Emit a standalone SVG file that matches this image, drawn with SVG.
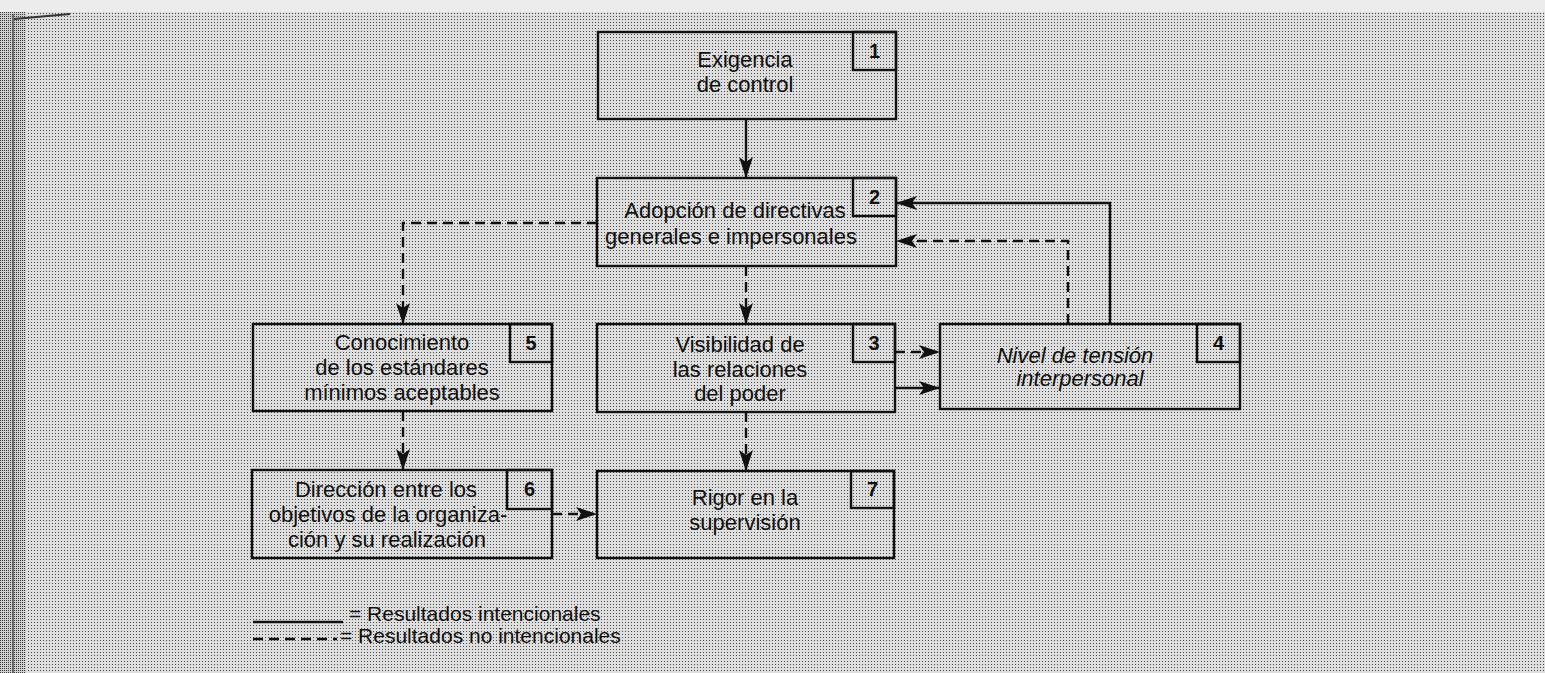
<svg xmlns="http://www.w3.org/2000/svg" width="1545" height="673" viewBox="0 0 1545 673">
<defs>
<pattern id="dots" width="3" height="3" patternUnits="userSpaceOnUse">
<rect width="3" height="3" fill="#dedede"/>
<rect x="1" y="1" width="1" height="1" fill="#4a4a4a"/>
</pattern>
<pattern id="dots2" width="2" height="2" patternUnits="userSpaceOnUse">
<rect width="2" height="2" fill="#cfcfcf"/>
<rect x="0" y="0" width="1" height="1" fill="#3a3a3a"/>
</pattern>
<marker id="ah" markerUnits="userSpaceOnUse" markerWidth="24" markerHeight="16" refX="21" refY="7" orient="auto">
<path d="M0,0 L21,7 L0,14 L5,7 Z" fill="#111"/>
</marker>
<style>
.box{fill:url(#dots);stroke:#111;stroke-width:2.4}
.num{fill:none;stroke:#111;stroke-width:2.4}
.t{font-family:"Liberation Sans",Arial,sans-serif;font-size:22px;fill:#111;text-anchor:middle}
.it{font-style:italic}
.n{font-family:"Liberation Sans",Arial,sans-serif;font-size:20px;font-weight:bold;fill:#111;text-anchor:middle}
.lg{font-family:"Liberation Sans",Arial,sans-serif;font-size:21px;fill:#111}
.s{fill:none;stroke:#111;stroke-width:2.4}
.d{fill:none;stroke:#111;stroke-width:2.4;stroke-dasharray:10 6}
</style>
</defs>
<rect width="1545" height="673" fill="url(#dots)"/>
<rect x="0" y="0" width="1545" height="12" fill="#ececec"/>
<rect x="0" y="12" width="26" height="661" fill="url(#dots2)"/>
<line x1="13" y1="14" x2="13" y2="673" stroke="#555" stroke-width="1.5"/>
<line x1="14" y1="19" x2="70" y2="14" stroke="#333" stroke-width="2"/>

<g id="connectors">
<line class="s" x1="746" y1="119" x2="746" y2="178" marker-end="url(#ah)"/>
<polyline class="d" points="597,223 403,223 403,324" marker-end="url(#ah)"/>
<line class="d" x1="746" y1="266" x2="746" y2="324" marker-end="url(#ah)"/>
<polyline class="s" points="1110,324 1110,203 896,203" marker-end="url(#ah)"/>
<polyline class="d" points="1068,324 1068,241 896,241" marker-end="url(#ah)"/>
<line class="d" x1="895" y1="352" x2="940" y2="352" stroke-dasharray="4 5" marker-end="url(#ah)"/>
<line class="s" x1="895" y1="388" x2="940" y2="388" marker-end="url(#ah)"/>
<line class="d" x1="403" y1="411" x2="403" y2="470" marker-end="url(#ah)"/>
<line class="d" x1="746" y1="412" x2="746" y2="471" stroke-dasharray="6 5" marker-end="url(#ah)"/>
<line class="d" x1="552" y1="514" x2="597" y2="514" stroke-dasharray="6 5" marker-end="url(#ah)"/>
</g>

<g id="node1">
<rect class="box" x="598" y="32" width="298" height="87"/>
<rect class="num" x="853" y="32" width="43" height="38"/>
<text class="n" x="874.5" y="58">1</text>
<text class="t" x="745" y="67">Exigencia</text>
<text class="t" x="745" y="92">de control</text>
</g>

<g id="node2">
<rect class="box" x="597" y="178" width="299" height="88"/>
<rect class="num" x="853" y="178" width="43" height="38"/>
<text class="n" x="874.5" y="204">2</text>
<text class="t" x="735" y="218">Adopción de directivas</text>
<text class="t" x="731" y="244">generales e impersonales</text>
</g>

<g id="node5">
<rect class="box" x="253" y="324" width="299" height="87"/>
<rect class="num" x="510" y="324" width="42" height="38"/>
<text class="n" x="531" y="350">5</text>
<text class="t" x="402" y="350">Conocimiento</text>
<text class="t" x="402" y="375">de los estándares</text>
<text class="t" x="402" y="400">mínimos aceptables</text>
</g>

<g id="node3">
<rect class="box" x="597" y="324" width="298" height="88"/>
<rect class="num" x="853" y="324" width="42" height="38"/>
<text class="n" x="874" y="350">3</text>
<text class="t" x="740" y="352">Visibilidad de</text>
<text class="t" x="740" y="377">las relaciones</text>
<text class="t" x="740" y="401">del poder</text>
</g>

<g id="node4">
<rect class="box" x="940" y="324" width="300" height="85"/>
<rect class="num" x="1197" y="324" width="43" height="38"/>
<text class="n" x="1218.5" y="350">4</text>
<text class="t it" x="1075" y="363">Nivel de tensión</text>
<text class="t it" x="1080" y="386">interpersonal</text>
</g>

<g id="node6">
<rect class="box" x="252" y="470" width="300" height="88"/>
<rect class="num" x="507" y="470" width="45" height="39"/>
<text class="n" x="529.5" y="496">6</text>
<text class="t" x="386" y="497">Dirección entre los</text>
<text class="t" x="388" y="522">objetivos de la organiza-</text>
<text class="t" x="387" y="547">ción y su realización</text>
</g>

<g id="node7">
<rect class="box" x="597" y="471" width="297" height="87"/>
<rect class="num" x="851" y="471" width="43" height="37"/>
<text class="n" x="872.5" y="496">7</text>
<text class="t" x="745" y="505">Rigor en la</text>
<text class="t" x="745" y="530">supervisión</text>
</g>

<g id="legend">
<line class="s" x1="253" y1="622" x2="343" y2="622"/>
<text class="lg" x="349" y="621">= Resultados intencionales</text>
<line class="d" x1="253" y1="639" x2="337" y2="639" stroke-dasharray="5 3"/>
<text class="lg" x="340" y="643">= Resultados no intencionales</text>
</g>
</svg>
